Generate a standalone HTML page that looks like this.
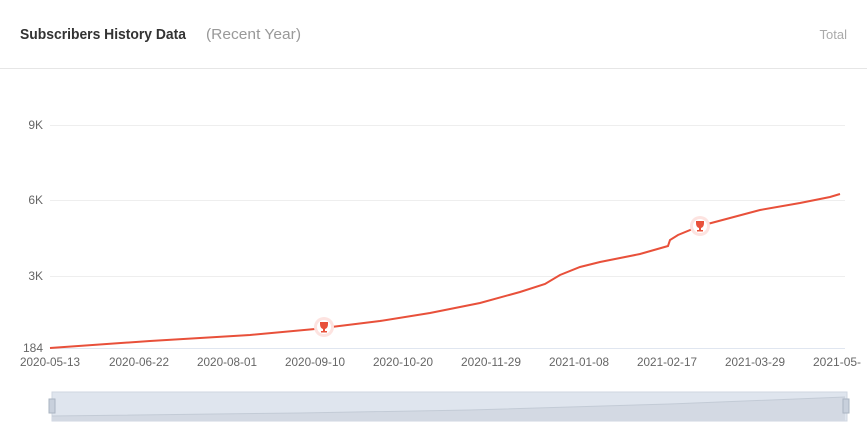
<!DOCTYPE html>
<html><head><style>
body{margin:0;background:#fff;font-family:"Liberation Sans",sans-serif;}
</style></head><body>
<svg width="867" height="437" xmlns="http://www.w3.org/2000/svg" style="display:block">
<text x="20" y="39" font-size="15" font-weight="bold" fill="#333" textLength="166" lengthAdjust="spacingAndGlyphs">Subscribers History Data</text>
<text x="206" y="39" font-size="15" fill="#999" textLength="95" lengthAdjust="spacingAndGlyphs">(Recent Year)</text>
<text x="847" y="39" font-size="13" fill="#aaa" text-anchor="end">Total</text>
<line x1="0" y1="68.5" x2="867" y2="68.5" stroke="#e6e6e6"/>
<g stroke="#eeeeee" stroke-width="1">
<line x1="50" y1="125.5" x2="845" y2="125.5"/>
<line x1="50" y1="200.5" x2="845" y2="200.5"/>
<line x1="50" y1="276.5" x2="845" y2="276.5"/>
<line x1="50" y1="348.5" x2="845" y2="348.5" stroke="#e0e6f0"/>
</g>
<g font-size="12" fill="#666" text-anchor="end">
<text x="43" y="129">9K</text>
<text x="43" y="204">6K</text>
<text x="43" y="280">3K</text>
<text x="43" y="352">184</text>
</g>
<g font-size="12" fill="#666" text-anchor="middle">
<text x="50" y="366" textLength="60" lengthAdjust="spacingAndGlyphs">2020-05-13</text>
<text x="139" y="366" textLength="60" lengthAdjust="spacingAndGlyphs">2020-06-22</text>
<text x="227" y="366" textLength="60" lengthAdjust="spacingAndGlyphs">2020-08-01</text>
<text x="315" y="366" textLength="60" lengthAdjust="spacingAndGlyphs">2020-09-10</text>
<text x="403" y="366" textLength="60" lengthAdjust="spacingAndGlyphs">2020-10-20</text>
<text x="491" y="366" textLength="60" lengthAdjust="spacingAndGlyphs">2020-11-29</text>
<text x="579" y="366" textLength="60" lengthAdjust="spacingAndGlyphs">2021-01-08</text>
<text x="667" y="366" textLength="60" lengthAdjust="spacingAndGlyphs">2021-02-17</text>
<text x="755" y="366" textLength="60" lengthAdjust="spacingAndGlyphs">2021-03-29</text>
<text x="813" y="366" text-anchor="start">2021-05-</text>
</g>
<polyline fill="none" stroke="#e8503a" stroke-width="2" points="50,348 150,341 250,335 315,329 380,321 430,313 480,303 520,292 545,284 560,275 580,267 600,262 640,254 668,246 670,240 678,235 700,226 730,218 760,210 800,203 830,197 840,194"/>
<g>
<circle cx="324" cy="327" r="10" fill="#fde3e0"/><circle cx="324" cy="327" r="7" fill="#fff"/>
<path d="M320,322 h8 v2 q0,4 -3,5 v2 h2 v1.5 h-6 v-1.5 h2 v-2 q-3,-1 -3,-5z" fill="#e8503a"/>
<circle cx="700" cy="226" r="10" fill="#fde3e0"/><circle cx="700" cy="226" r="7" fill="#fff"/>
<path d="M696,221 h8 v2 q0,4 -3,5 v2 h2 v1.5 h-6 v-1.5 h2 v-2 q-3,-1 -3,-5z" fill="#e8503a"/>
</g>
<rect x="52" y="392" width="795" height="29" fill="#dfe5ee" stroke="#cfd6e0"/>
<polygon points="52,416 300,413 470,410 670,404 845,397 845,421 52,421" fill="#d3d9e3"/>
<polyline points="52,416 300,413 470,410 670,404 845,397" fill="none" stroke="#c3cbd6"/>
<rect x="49" y="399" width="6" height="14" fill="#c8d0dc" stroke="#aab4c2"/>
<rect x="843" y="399" width="6" height="14" fill="#c8d0dc" stroke="#aab4c2"/>
</svg>
</body></html>
